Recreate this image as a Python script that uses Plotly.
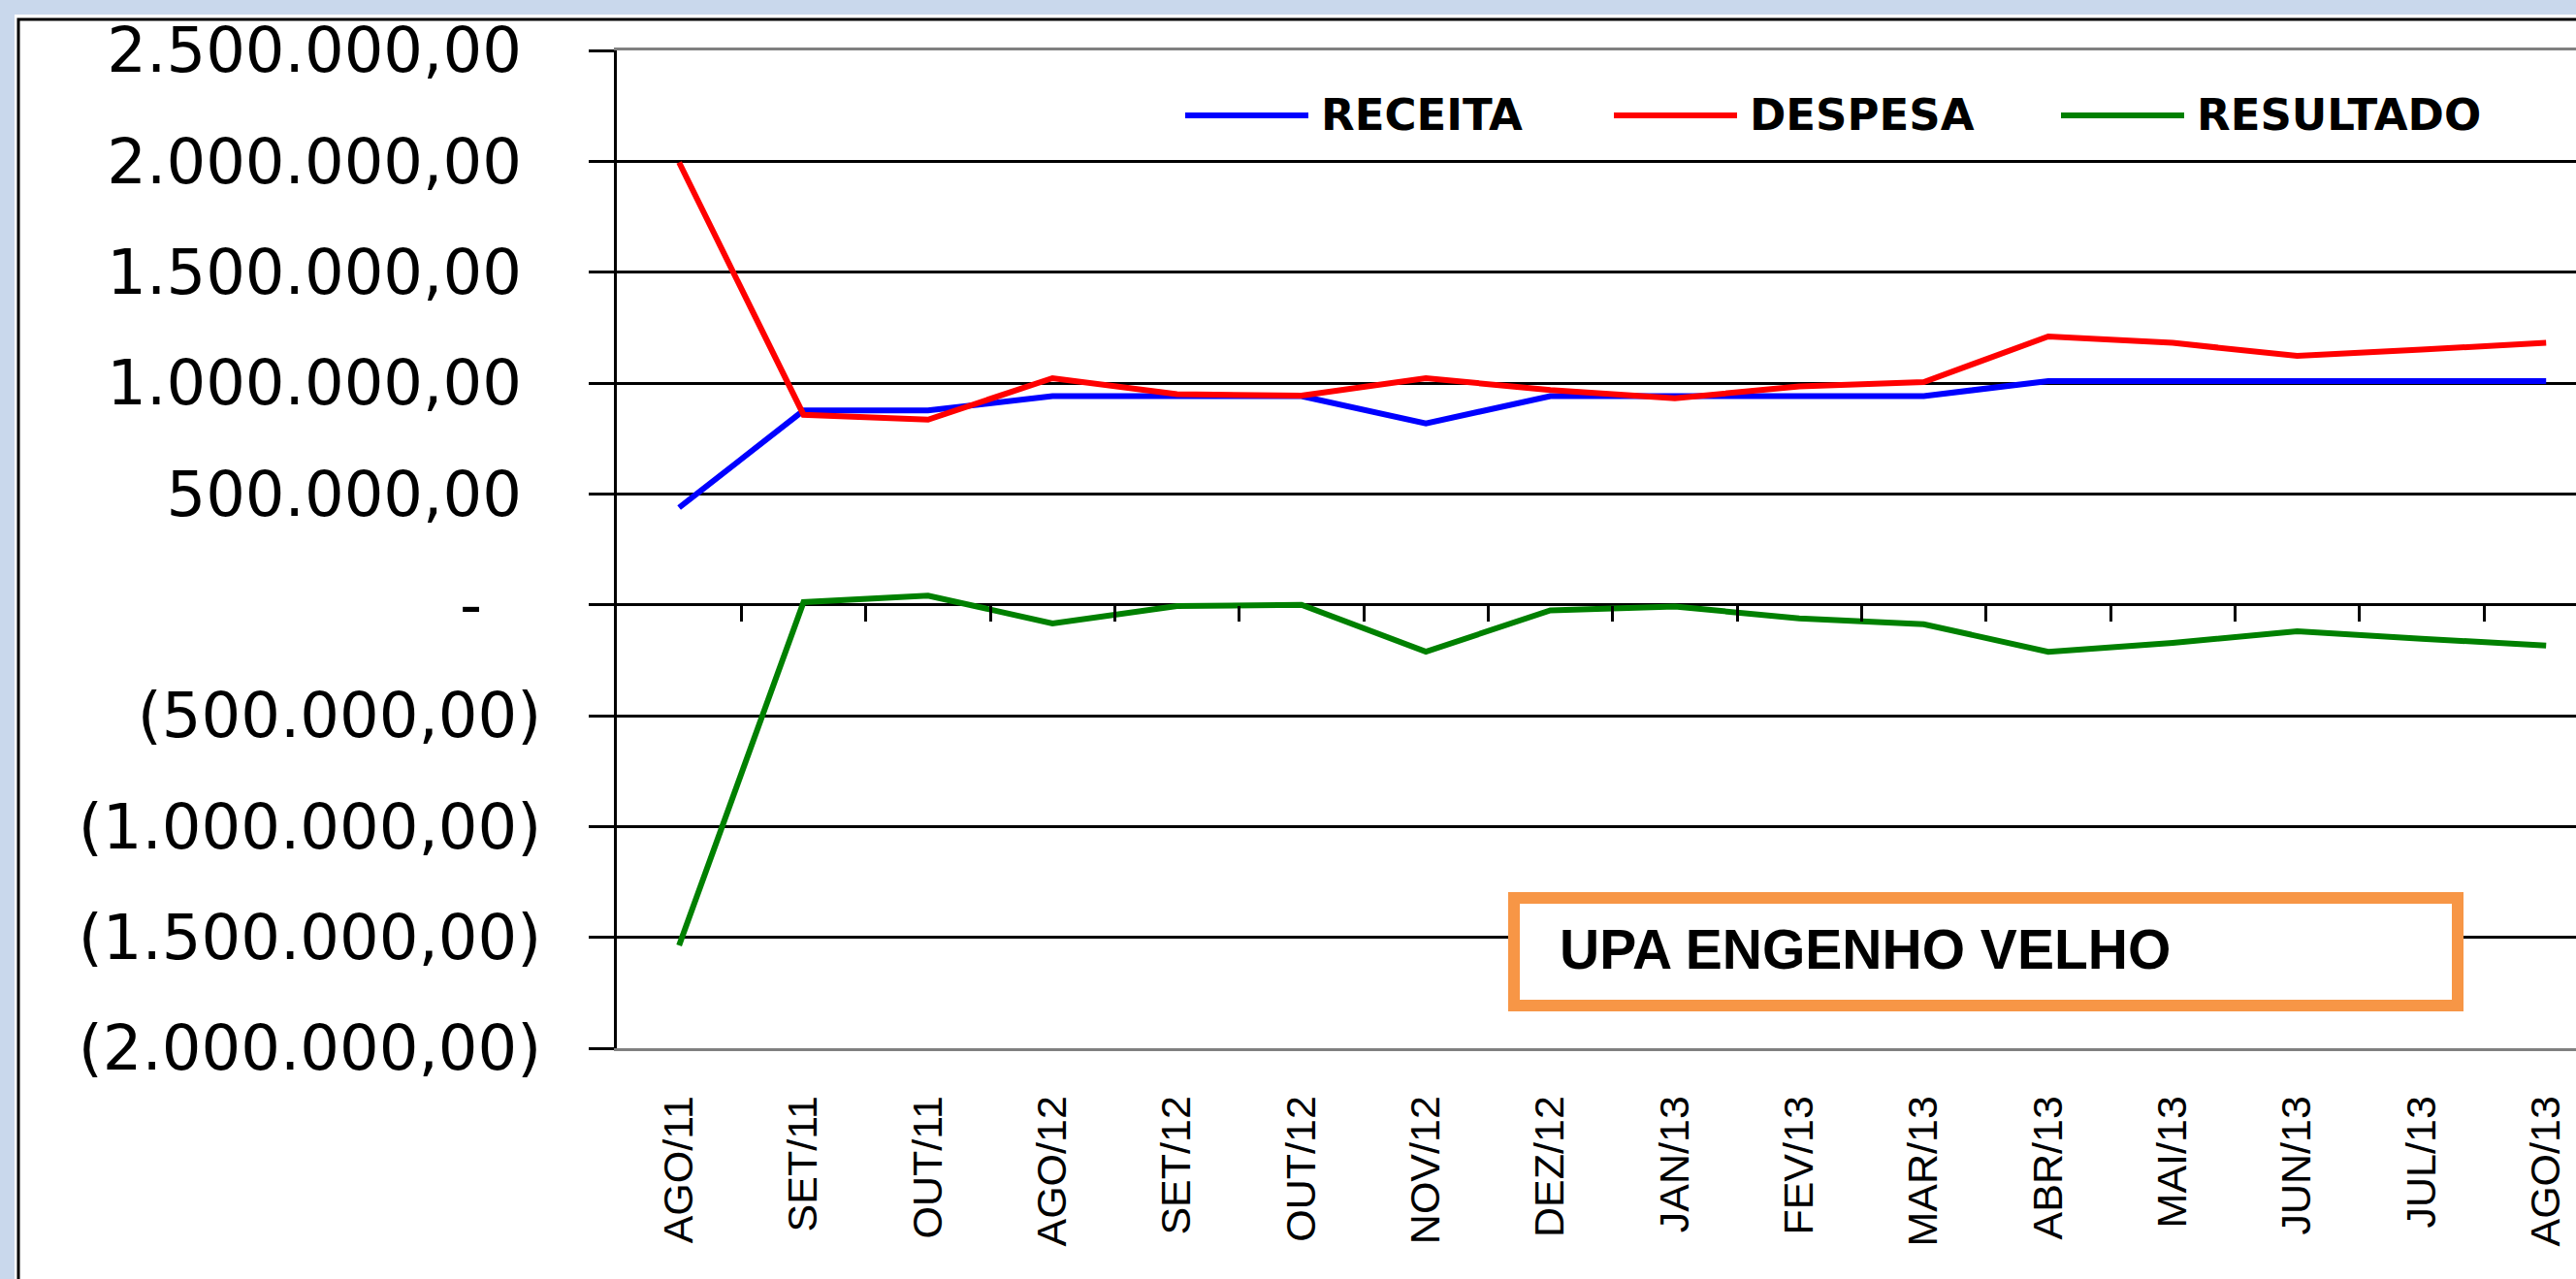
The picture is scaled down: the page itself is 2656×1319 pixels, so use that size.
import plotly.graph_objects as go

categories = ["AGO/11", "SET/11", "OUT/11", "AGO/12", "SET/12", "OUT/12", "NOV/12", "DEZ/12",
              "JAN/13", "FEV/13", "MAR/13", "ABR/13", "MAI/13", "JUN/13", "JUL/13", "AGO/13"]
receita = [438000, 876000, 876000, 941000, 941000, 941000, 818000, 941000,
           941000, 941000, 941000, 1009000, 1009000, 1009000, 1009000, 1009000]
despesa = [1995000, 857000, 835000, 1022000, 950000, 943000, 1022000, 968000,
           931000, 985000, 1004000, 1210000, 1181000, 1122000, 1151000, 1181000]
resultado = [-1536000, 12000, 41000, -84000, -6000, 0, -212000, -25000,
             -8000, -62000, -88000, -212000, -172000, -120000, -153000, -184000]
series_names = ["RECEITA", "DESPESA", "RESULTADO"]
series_colors = ["#0000ff", "#ff0000", "#008000"]
y_tickvals = [2500000, 2000000, 1500000, 1000000, 500000, 0, -500000, -1000000, -1500000, -2000000]
y_ticktext = ["2.500.000,00\u00a0", "2.000.000,00\u00a0", "1.500.000,00\u00a0", "1.000.000,00\u00a0",
              "500.000,00\u00a0", "-\u00a0\u00a0\u00a0", "(500.000,00)", "(1.000.000,00)",
              "(1.500.000,00)", "(2.000.000,00)"]
box_title = "UPA ENGENHO VELHO"

W, H = 2656, 1319
ML, MR, MT, MB = 636, 0, 52, 238
PW, PH = W - ML - MR, H - MT - MB
Y_MIN, Y_MAX = -2000000, 2500000


def px(x):
    return (x - ML) / PW


def py(y):
    return (H - MB - y) / PH


xs = list(range(len(categories)))
fig = go.Figure()
for name, vals, col in zip(series_names, [receita, despesa, resultado], series_colors):
    fig.add_trace(go.Scatter(x=xs, y=vals, mode="lines", name=name,
                             line=dict(color=col, width=6), showlegend=False))
# helper trace to activate the tick axis on the zero line
fig.add_trace(go.Scatter(x=[], y=[], xaxis="x2", yaxis="y", showlegend=False, hoverinfo="skip"))

shapes = []
# outer white panel with black frame
shapes.append(dict(type="rect", xref="paper", yref="paper", x0=px(15), x1=px(W + 50),
                   y0=py(H + 50), y1=py(15), fillcolor="white", line=dict(width=0), layer="below"))
shapes.append(dict(type="rect", xref="paper", yref="paper", x0=px(19), x1=px(W + 50),
                   y0=py(H + 50), y1=py(20), fillcolor="rgba(0,0,0,0)",
                   line=dict(color="black", width=3), layer="above"))
# title box
shapes.append(dict(type="rect", xref="paper", yref="paper", x0=px(1561), x1=px(2534),
                   y0=py(1037), y1=py(926), fillcolor="white",
                   line=dict(color="#f79646", width=12), layer="above"))

annotations = [dict(text="<b>" + box_title + "</b>", xref="paper", yref="paper",
                    x=px(1606), y=py(979), xanchor="left", yanchor="middle", showarrow=False,
                    font=dict(family="Liberation Sans", size=57, color="black"))]

# legend drawn manually
leg_y = 119
leg_x = [1222, 1664, 2125]
for name, col, lx in zip(series_names, series_colors, leg_x):
    shapes.append(dict(type="line", xref="paper", yref="paper", x0=px(lx), x1=px(lx + 127),
                       y0=py(leg_y), y1=py(leg_y), line=dict(color=col, width=6), layer="above"))
    annotations.append(dict(text="<b>" + name + "</b>", xref="paper", yref="paper",
                            x=px(lx + 138), y=py(leg_y), xanchor="left", yanchor="middle",
                            showarrow=False,
                            font=dict(family="DejaVu Sans", size=45, color="black")))

fig.update_layout(
    width=W, height=H,
    margin=dict(l=ML, r=MR, t=MT, b=MB, pad=0),
    paper_bgcolor="#c9d8ec",
    plot_bgcolor="white",
    showlegend=False,
    shapes=shapes,
    annotations=annotations,
    xaxis=dict(range=[-0.5, 15.24], tickmode="array", tickvals=xs, ticktext=categories,
               tickangle=-90, ticks="", showgrid=False, zeroline=False,
               showline=True, linecolor="#808080", linewidth=3, mirror=True,
               tickfont=dict(family="Liberation Sans", size=43, color="black"),
               ticklabelstandoff=29, fixedrange=True),
    xaxis2=dict(range=[-0.5, 15.24], overlaying="x", anchor="free",
                position=(0 - Y_MIN) / (Y_MAX - Y_MIN), side="bottom",
                tickmode="array", tickvals=[i + 0.5 for i in xs],
                ticks="outside", ticklen=16, tickwidth=3, tickcolor="black",
                showticklabels=False, showgrid=False, zeroline=False, showline=False),
    yaxis=dict(range=[Y_MIN, Y_MAX], tickmode="array", tickvals=y_tickvals, ticktext=y_ticktext,
               showgrid=True, gridcolor="black", gridwidth=3, zeroline=False,
               showline=True, linecolor="black", linewidth=3,
               ticks="outside", ticklen=26, tickwidth=3, tickcolor="black",
               tickfont=dict(family="DejaVu Sans", size=64, color="black"),
               ticklabelstandoff=36),
)

fig.write_html("out.html", config={"displayModeBar": False},
               post_script="document.body.style.margin='0';document.body.style.overflow='hidden';")
